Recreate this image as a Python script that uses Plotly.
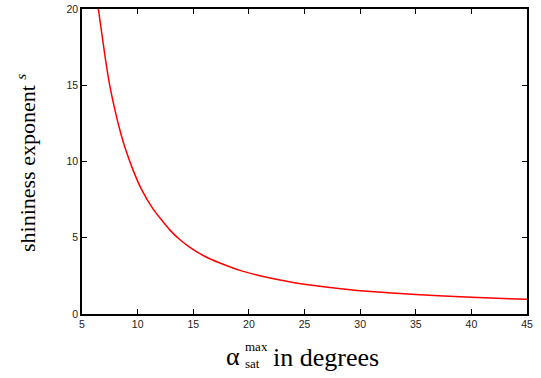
import plotly.graph_objects as go

# data
alpha_deg = [6.47, 7.07, 7.46, 7.97, 8.48, 8.87, 9.61, 10.36, 11.41, 12.91, 13.81,
             15.0, 16.2, 17.4, 19.2, 21.0, 22.8, 25.0, 27.5, 30.0, 35.0, 40.0, 45.0]
shininess = [20.0, 16.9, 15.12, 13.35, 11.85, 10.9, 9.4, 8.15, 6.86, 5.5, 4.87,
             4.22, 3.72, 3.34, 2.86, 2.51, 2.23, 1.95, 1.72, 1.53, 1.28, 1.10, 0.96]
x_ticks = [5, 10, 15, 20, 25, 30, 35, 40, 45]
y_ticks = [0, 5, 10, 15, 20]

W, H = 541, 378
L, R, T, B = 82, 14, 9, 64
PW, PH = W - L - R, H - T - B


def px(x):
    return (x - L) / PW


def py(y):
    return (H - B - y) / PH


fig = go.Figure()
fig.add_trace(go.Scatter(x=alpha_deg, y=shininess, mode="lines",
                         line=dict(color="#ff0000", width=1.5, shape="spline", smoothing=0.5),
                         showlegend=False, hoverinfo="skip"))

axis_common = dict(showgrid=False, zeroline=False, showline=True, linecolor="black",
                   linewidth=1.5, mirror="allticks", ticks="inside", ticklen=5,
                   tickwidth=1, tickcolor="black", automargin=False,
                   tickfont=dict(family="Liberation Sans", size=10.5, color="#222"))

fig.update_xaxes(range=[5, 45], tickvals=x_ticks, **axis_common)
fig.update_yaxes(range=[0, 20], tickvals=y_ticks, **axis_common)

serif = "Liberation Serif"
annotations = [
    dict(text="shininess exponent <sup><i>s</i></sup>", x=px(26), y=py(163), textangle=-90,
         font=dict(family=serif, size=22, color="black")),
    dict(text="α", x=px(242), y=py(356), xanchor="right",
         font=dict(family=serif, size=26, color="black")),
    dict(text="max", x=px(243), y=py(346), xanchor="left",
         font=dict(family=serif, size=13, color="black")),
    dict(text="sat", x=px(243), y=py(363), xanchor="left",
         font=dict(family=serif, size=13, color="black")),
    dict(text="in degrees", x=px(271), y=py(357), xanchor="left",
         font=dict(family=serif, size=26, color="black")),
]
for a in annotations:
    a.update(xref="paper", yref="paper", showarrow=False, yanchor="middle")
    a.setdefault("xanchor", "center")

fig.update_layout(width=W, height=H,
                  margin=dict(l=L, r=R, t=T, b=B, pad=0, autoexpand=False),
                  paper_bgcolor="white", plot_bgcolor="white", annotations=annotations)

fig.write_html("out.html", config={"displayModeBar": False},
               post_script="document.body.style.margin='0';")
